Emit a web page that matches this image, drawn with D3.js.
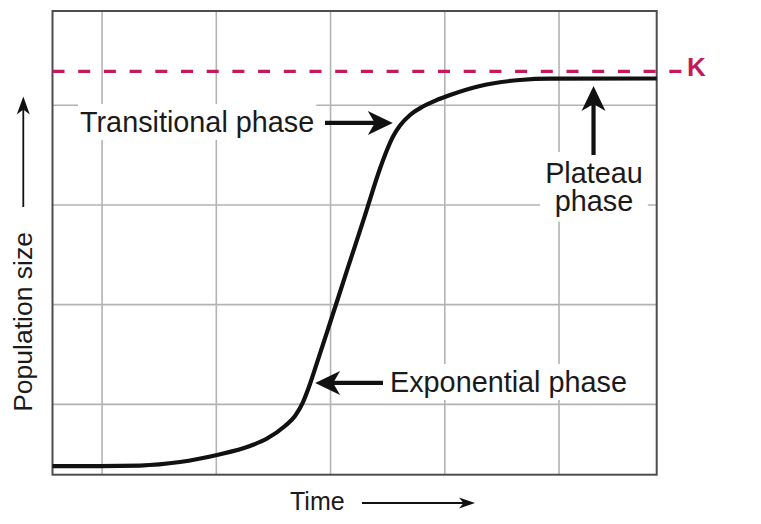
<!DOCTYPE html>
<html>
<head>
<meta charset="utf-8">
<script src="https://cdn.jsdelivr.net/npm/d3@7"></script>
<style>
  html, body { margin: 0; padding: 0; background: #fff; }
  svg { display: block; }
  text { font-family: "Liberation Sans", Arial, Helvetica, sans-serif; fill: #1a1a1a; }
</style>
</head>
<body>
<svg id="chart" width="761" height="524"></svg>
<script>
// ---------- data ----------
const timeValues = [0.566, 0.982, 1.332, 1.682, 2.006, 2.295, 2.444, 2.601, 2.689, 2.759, 2.820, 2.881, 2.995, 3.144, 3.302, 3.433, 3.494, 3.547, 3.608, 3.696, 3.801, 3.914, 4.046, 4.308, 4.658, 4.921, 5.855];
const popValues  = [0.381, 0.381, 0.386, 0.421, 0.492, 0.582, 0.657, 0.783, 0.883, 1.023, 1.204, 1.415, 1.816, 2.343, 2.899, 3.366, 3.552, 3.687, 3.797, 3.903, 3.983, 4.045, 4.103, 4.194, 4.254, 4.268, 4.269];
const gridTimes = [1, 2, 3, 4, 5];
const gridPops  = [1, 2, 3, 4];
const carryingCapacity = 4.34;
const kLabel = "K";
const phaseLabels = ["Transitional phase", "Exponential phase", "Plateau", "phase"];
const xAxisTitle = "Time";
const yAxisTitle = "Population size";

// ---------- layout ----------
const svg = d3.select("#chart");
const plot = { left: 52.5, right: 656.7, top: 11, bottom: 474.7 };
const x = d3.scaleLinear().domain([0.566, 5.855]).range([plot.left, plot.right]);
const y = d3.scaleLinear().domain([0.294, 4.946]).range([plot.bottom, plot.top]);

const gridColor = "#b3b3b3";
const frameColor = "#4d4d4d";
const kColor = "#c41a5a";
const ink = "#111";

// grid
const gGrid = svg.append("g");
gGrid.selectAll("line.v").data(gridTimes).join("line")
  .attr("x1", d => x(d)).attr("x2", d => x(d))
  .attr("y1", plot.top).attr("y2", plot.bottom)
  .attr("stroke", gridColor).attr("stroke-width", 1.6);
gGrid.selectAll("line.h").data(gridPops).join("line")
  .attr("y1", d => y(d)).attr("y2", d => y(d))
  .attr("x1", plot.left).attr("x2", plot.right)
  .attr("stroke", gridColor).attr("stroke-width", 1.6);

// frame
svg.append("rect")
  .attr("x", plot.left).attr("y", plot.top)
  .attr("width", plot.right - plot.left).attr("height", plot.bottom - plot.top)
  .attr("fill", "none").attr("stroke", frameColor).attr("stroke-width", 2);

// labels with white backgrounds
function label(g, lines, xPos, yPos, anchor, lineGap, pad) {
  const t = g.append("text")
    .attr("x", xPos).attr("y", yPos)
    .attr("text-anchor", anchor)
    .style("font-size", "28.8px");
  lines.forEach((s, i) => {
    t.append("tspan").attr("x", xPos).attr("dy", i === 0 ? 0 : lineGap).text(s);
  });
  const b = t.node().getBBox();
  g.insert("rect", "text")
    .attr("x", b.x - pad).attr("y", b.y - pad)
    .attr("width", b.width + 2 * pad).attr("height", b.height + 2 * pad)
    .attr("fill", "#fff");
  return t;
}
const gLab = svg.append("g");
label(gLab.append("g"), [phaseLabels[0]], 80, 132, "start", 0, 2);
label(gLab.append("g"), [phaseLabels[1]], 390, 392, "start", 0, 2);
label(gLab.append("g"), [phaseLabels[2], phaseLabels[3]], 594, 183, "middle", 27.5, 5);

// K dashed line
svg.append("line")
  .attr("x1", plot.left).attr("x2", plot.right + 27)
  .attr("y1", y(carryingCapacity)).attr("y2", y(carryingCapacity))
  .attr("stroke", kColor).attr("stroke-width", 3.2)
  .attr("stroke-dasharray", "12,13.7");
svg.append("text")
  .attr("x", 687).attr("y", 75.5)
  .style("font-size", "26px").style("font-weight", "bold")
  .style("fill", kColor)
  .text(kLabel);

// growth curve
const line = d3.line()
  .x((d, i) => x(timeValues[i]))
  .y(d => y(d))
  .curve(d3.curveMonotoneX);
svg.append("path")
  .attr("d", line(popValues))
  .attr("fill", "none").attr("stroke", ink)
  .attr("stroke-width", 4.2).attr("stroke-linejoin", "round");

// arrows
function arrow(x1, y1, x2, y2, headLen, headW, width) {
  const ang = Math.atan2(y2 - y1, x2 - x1);
  const g = svg.append("g").attr("transform", `translate(${x2},${y2}) rotate(${ang * 180 / Math.PI})`);
  const len = Math.hypot(x2 - x1, y2 - y1);
  g.append("line").attr("x1", -len).attr("y1", 0).attr("x2", -headLen * 0.6).attr("y2", 0)
    .attr("stroke", ink).attr("stroke-width", width);
  g.append("path")
    .attr("d", `M0,0 L${-headLen},${-headW} L${-headLen * 0.72},0 L${-headLen},${headW} Z`)
    .attr("fill", ink);
}
// transitional arrow
arrow(325, y(3.823), x(3.545), y(3.823), 25, 12, 4.2);
// exponential arrow
arrow(383, y(1.215), x(2.865), y(1.215), 25, 12, 4.2);
// plateau arrow
arrow(x(5.302), 155, x(5.302), y(4.194), 25, 12, 4.2);

// axis titles
svg.append("text")
  .attr("transform", `translate(32, 322) rotate(-90)`)
  .attr("text-anchor", "middle")
  .style("font-size", "26.5px")
  .text(yAxisTitle);
svg.append("text")
  .attr("x", 290).attr("y", 510)
  .style("font-size", "25px")
  .text(xAxisTitle);

// axis direction arrows (thin)
arrow(23.3, 207, 23.3, 96.5, 18, 6.5, 1.8);
arrow(362, 503, 475, 503, 16, 5.5, 1.8);
</script>
</body>
</html>
